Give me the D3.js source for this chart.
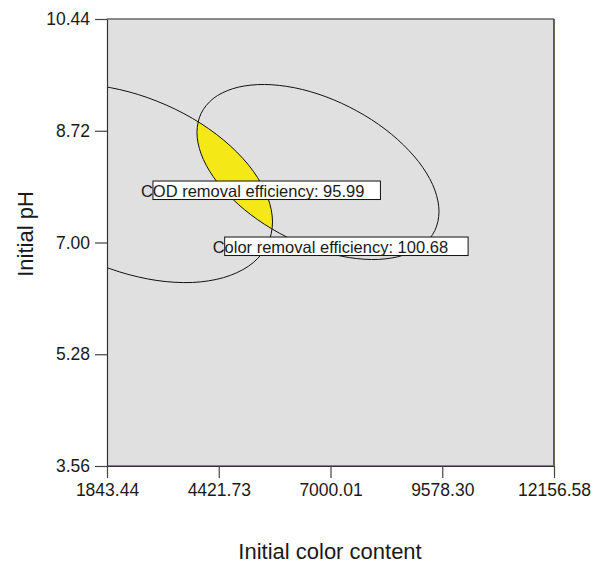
<!DOCTYPE html>
<html>
<head>
<meta charset="utf-8">
<script src="https://cdn.jsdelivr.net/npm/d3@7"></script>
<style>
  body { margin: 0; background: #fff; }
  text { font-family: "Liberation Sans", Arial, sans-serif; fill: #1a1a1a; }
</style>
</head>
<body>
<svg width="600" height="563"></svg>
<script>
// axis ticks
const xTicks = [1843.44, 4421.73, 7000.01, 9578.30, 12156.58];
const yTicks = [3.56, 5.28, 7.00, 8.72, 10.44];

// COD removal efficiency = 95.99 contour (initial color content, initial pH)
const codContour = [
  [5662, 7.314], [5549, 6.969], [5219, 6.691], [4693, 6.495], [4008, 6.394],
  [3209, 6.398], [2353, 6.505], [1497, 6.706], [699, 6.991], [14, 7.339],
  [-512, 7.725], [-842, 8.124], [-955, 8.508], [-842, 8.853], [-512, 9.132],
  [14, 9.327], [699, 9.429], [1497, 9.424], [2353, 9.318], [3209, 9.116],
  [4008, 8.832], [4693, 8.484], [5219, 8.097], [5549, 7.699]
];

// Color removal efficiency = 100.68 contour
const colorContour = [
  [9503, 7.474], [9408, 7.185], [9129, 6.955], [8684, 6.805], [8107, 6.740],
  [7433, 6.768], [6711, 6.885], [5989, 7.085], [5315, 7.353], [4739, 7.670],
  [4293, 8.014], [4014, 8.365], [3919, 8.696], [4014, 8.986], [4293, 9.215],
  [4739, 9.366], [5315, 9.430], [5989, 9.403], [6711, 9.286], [7433, 9.086],
  [8107, 8.819], [8684, 8.501], [9129, 8.156], [9408, 7.806]
];

const labels = ["COD removal efficiency: 95.99", "Color removal efficiency: 100.68"];

const svg = d3.select("svg");
const x = d3.scaleLinear().domain([1843.44, 12156.58]).range([107, 554]);
const y = d3.scaleLinear().domain([3.56, 10.44]).range([466, 19]);

const defs = svg.append("defs");
defs.append("clipPath").attr("id", "plotClip")
  .append("rect")
  .attr("x", x.range()[0]).attr("y", y.range()[1])
  .attr("width", x.range()[1] - x.range()[0])
  .attr("height", y.range()[0] - y.range()[1]);

const line = d3.line()
  .x(d => x(d[0]))
  .y(d => y(d[1]))
  .curve(d3.curveCatmullRomClosed.alpha(0.5));

defs.append("clipPath").attr("id", "colorClip")
  .append("path").attr("d", line(colorContour));

// plot background
svg.append("rect")
  .attr("x", x.range()[0]).attr("y", y.range()[1])
  .attr("width", x.range()[1] - x.range()[0])
  .attr("height", y.range()[0] - y.range()[1])
  .attr("fill", "#e0e0e0");

const plot = svg.append("g").attr("clip-path", "url(#plotClip)");

// overlap region
plot.append("g").attr("clip-path", "url(#colorClip)")
  .append("path")
  .attr("d", line(codContour))
  .attr("fill", "#f4e816");

[codContour, colorContour].forEach(c => {
  plot.append("path")
    .attr("d", line(c))
    .attr("fill", "none")
    .attr("stroke", "#111")
    .attr("stroke-width", 1);
});

// frame
svg.append("line").attr("x1", 107).attr("x2", 554).attr("y1", 19).attr("y2", 19)
  .attr("stroke", "#666").attr("stroke-width", 1.5);
svg.append("line").attr("x1", 554).attr("x2", 554).attr("y1", 19).attr("y2", 466)
  .attr("stroke", "#33331a").attr("stroke-width", 1.5);
svg.append("line").attr("x1", 107).attr("x2", 554).attr("y1", 466).attr("y2", 466)
  .attr("stroke", "#6b6b1e").attr("stroke-width", 1.5);

// axes
const fmt = d3.format(".2f");
const yAxis = svg.append("g")
  .attr("transform", "translate(107,0)")
  .call(d3.axisLeft(y).tickValues(yTicks).tickFormat(fmt).tickSize(12).tickSizeOuter(0).tickPadding(5));
const xAxis = svg.append("g")
  .attr("transform", "translate(0,466)")
  .call(d3.axisBottom(x).tickValues(xTicks).tickFormat(fmt).tickSize(12).tickSizeOuter(0).tickPadding(6));

[xAxis, yAxis].forEach(a => {
  a.select(".domain").attr("stroke", "#333").attr("stroke-width", 1.2);
  a.selectAll(".tick line").attr("stroke", "#444").attr("stroke-width", 1.2);
  a.selectAll(".tick text").attr("font-size", 17.5).attr("fill", "#1a1a1a")
    .style("font-family", "'Liberation Sans', Arial, sans-serif");
});

// axis titles
svg.append("text")
  .attr("x", 330).attr("y", 559)
  .attr("text-anchor", "middle")
  .attr("font-size", 22)
  .text("Initial color content");

svg.append("text")
  .attr("transform", "translate(33,234) rotate(-90)")
  .attr("text-anchor", "middle")
  .attr("font-size", 22)
  .text("Initial pH");

// contour labels
const labelPos = [[2627, 7.70], [4282, 6.838]];
labels.forEach((t, i) => {
  const lx = x(labelPos[i][0]), ly = y(labelPos[i][1]);
  const g = svg.append("g");
  const rect = g.append("rect");
  const txt = g.append("text")
    .attr("x", lx).attr("y", ly)
    .attr("font-size", 16.5)
    .text(t);
  const w = txt.node().getComputedTextLength();
  rect.attr("x", lx + 12).attr("y", ly - 16)
    .attr("width", w + 4 + i * 4).attr("height", 18.5)
    .attr("fill", "#fff").attr("stroke", "#111").attr("stroke-width", 1);
});
</script>
</body>
</html>
